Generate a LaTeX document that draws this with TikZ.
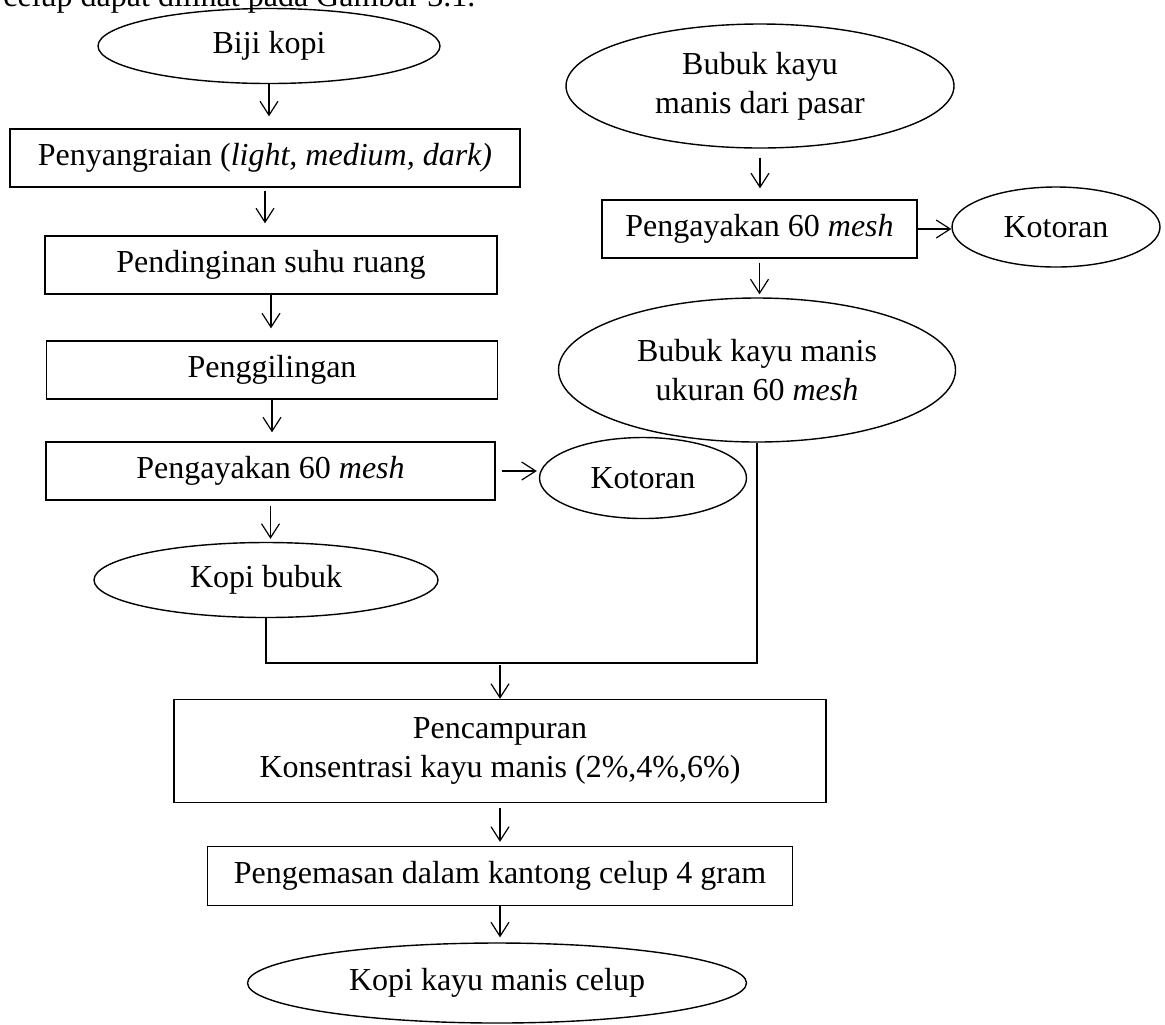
\documentclass[tikz,border=0pt]{standalone}
\usepackage{fontspec}
\setmainfont{Liberation Serif}
\usetikzlibrary{shapes.geometric,arrows.meta}

\begin{document}
\begin{tikzpicture}[x=0.5pt,y=-0.5pt,
        font=\fontsize{16}{19.3}\selectfont,
        proses/.style={draw, rectangle, line width=0.7pt, inner sep=0pt, align=center},
        bahan/.style={draw, ellipse, line width=0.7pt, inner sep=0pt, align=center},
        alir/.style={-{Straight Barb[length=7pt,width=9pt]}, line width=0.6pt},
        garis/.style={line width=0.6pt}]
        
        \useasboundingbox (0,0) rectangle (1165,1024);
        
        \node[anchor=base west, inner sep=0pt] (teks) at (3,6) {celup dapat dilihat pada Gambar 3.1.};
        
        % jalur kopi
        \node[bahan, minimum width=171pt, minimum height=37.5pt] (biji) at (269,46) {Biji kopi};
        \node[proses, minimum width=255pt, minimum height=29pt] (sangrai) at (265,158) {Penyangraian (\textit{light, medium, dark)}};
        \node[proses, minimum width=226pt, minimum height=29pt] (dingin) at (271,265) {Pendinginan suhu ruang};
        \node[proses, minimum width=225.5pt, minimum height=29pt] (giling) at (272,370) {Penggilingan};
        \node[proses, minimum width=224.5pt, minimum height=29pt] (ayak1) at (270.5,471) {Pengayakan 60 \textit{mesh}};
        \node[bahan, minimum width=103.5pt, minimum height=40.5pt] (kotor1) at (643,478) {Kotoran};
        \node[bahan, minimum width=172pt, minimum height=37.5pt] (kbubuk) at (266,580) {Kopi bubuk};
        
        % jalur kayu manis
        \node[bahan, minimum width=194pt, minimum height=62pt] (kmpasar) at (760,86) {Bubuk kayu\\manis dari pasar};
        \node[proses, minimum width=157.5pt, minimum height=29pt] (ayak2) at (759.5,229) {Pengayakan 60 \textit{mesh}};
        \node[bahan, minimum width=104pt, minimum height=40pt] (kotor2) at (1056,227) {Kotoran};
        \node[bahan, minimum width=198.5pt, minimum height=72pt] (kmayak) at (757,370) {Bubuk kayu manis\\ukuran 60 \textit{mesh}};
        
        % gabungan
        \coordinate (gabung) at (500,663);
        \node[proses, minimum width=326pt, minimum height=51.5pt] (campur) at (500,751) {Pencampuran\\Konsentrasi kayu manis (2\%,4\%,6\%)};
        \node[proses, minimum width=292.5pt, minimum height=29.5pt] (kemas) at (500,876) {Pengemasan dalam kantong celup 4 gram};
        \node[bahan, minimum width=249.5pt, minimum height=40pt] (celup) at (497,983) {Kopi kayu manis celup};
        
        \draw[alir, shorten >=6pt] (biji) -- (biji |- sangrai.north);
        \draw[alir, shorten <=1.5pt, shorten >=6pt] (sangrai) -- (sangrai |- dingin.north);
        \draw[alir, shorten >=6pt] (dingin) -- (dingin |- giling.north);
        \draw[alir, shorten >=4.5pt] (giling) -- (giling |- ayak1.north);
        \draw[alir, shorten <=3pt, shorten >=1pt] (ayak1) -- (ayak1 -| kotor1.west);
        \draw[alir, shorten <=2.5pt, shorten >=1.5pt] (ayak1) -- (ayak1 |- kbubuk.north);
        
        \draw[alir, shorten <=4.5pt, shorten >=5.5pt] (kmpasar) -- (kmpasar |- ayak2.north);
        \draw[alir] (ayak2) -- (ayak2 -| kotor2.west);
        \draw[alir, shorten <=2pt, shorten >=1.5pt] (ayak2) -- (ayak2 |- kmayak.north);
        
        \draw[garis] (kbubuk) -- (kbubuk |- gabung) -- (kmayak |- gabung) -- (kmayak);
        \draw[alir, shorten <=1pt] (gabung) -- (campur);
        \draw[alir, shorten <=2.5pt, shorten >=2pt] (campur) -- (kemas);
        \draw[alir, shorten >=2.5pt] (kemas) -- (kemas |- celup.north);
        
\end{tikzpicture}
\end{document}
